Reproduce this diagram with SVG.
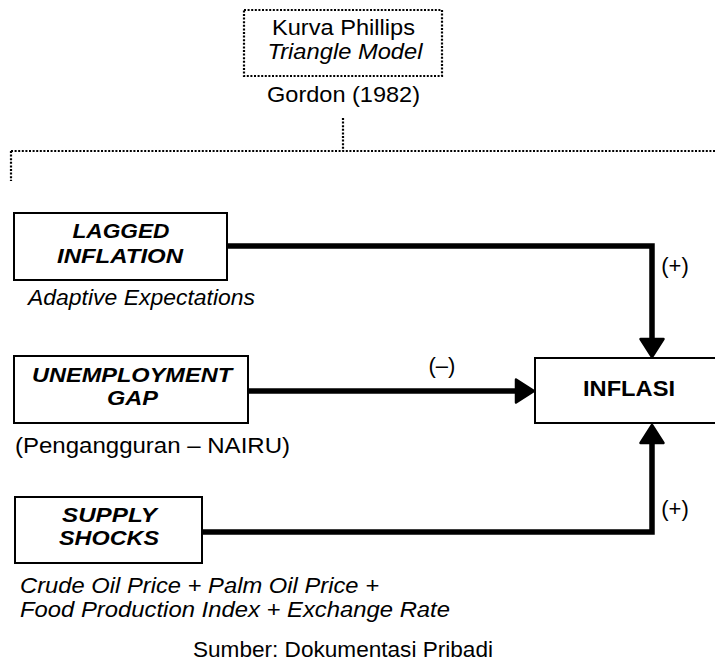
<svg xmlns="http://www.w3.org/2000/svg" width="715" height="666" viewBox="0 0 715 666">
<style>
text{font-family:"Liberation Sans",Arial,sans-serif;fill:#000}
.t{font-size:22px}
.it{font-style:italic}
.bi{font-size:20.5px;font-weight:bold;font-style:italic}
.b{font-size:22px;font-weight:bold}
.box{fill:#fff;stroke:#000;stroke-width:2}
.dot{fill:none;stroke:#000;stroke-width:2.2;stroke-dasharray:2 1.6}
.con{fill:none;stroke:#000;stroke-width:5.5;stroke-linejoin:miter}
</style>
<defs>
<marker id="ah" markerUnits="userSpaceOnUse" markerWidth="30" markerHeight="30" viewBox="-2 -15 24 30" refX="0" refY="0" orient="auto" overflow="visible">
<path d="M0,-11.5 L18,0 L0,11.5 Z" fill="#000" stroke="#000" stroke-width="2.5" stroke-linejoin="round"/>
</marker>
</defs>
<g id="title">
<rect class="dot" x="244" y="10" width="198" height="66"/>
<text class="t" x="343.5" y="35" text-anchor="middle" textLength="143" lengthAdjust="spacingAndGlyphs">Kurva Phillips</text>
<text class="t it" x="345" y="59" text-anchor="middle" textLength="155" lengthAdjust="spacingAndGlyphs">Triangle Model</text>
<text class="t" x="343.5" y="102" text-anchor="middle" textLength="153" lengthAdjust="spacingAndGlyphs">Gordon (1982)</text>
</g>
<g id="bracket">
<path class="dot" d="M343,118 V151 M11,151 H715 M11,151 V181"/>
</g>
<g id="lagged">
<rect class="box" x="14" y="213" width="213" height="67"/>
<text class="bi" x="121" y="238" text-anchor="middle" textLength="97" lengthAdjust="spacingAndGlyphs">LAGGED</text>
<text class="bi" x="120" y="263" text-anchor="middle" textLength="126" lengthAdjust="spacingAndGlyphs">INFLATION</text>
<text class="t it" x="28" y="305" textLength="227" lengthAdjust="spacingAndGlyphs">Adaptive Expectations</text>
</g>
<g id="unemployment">
<rect class="box" x="14" y="356" width="234" height="67"/>
<text class="bi" x="132" y="382" text-anchor="middle" textLength="200" lengthAdjust="spacingAndGlyphs">UNEMPLOYMENT</text>
<text class="bi" x="132.5" y="405" text-anchor="middle" textLength="51" lengthAdjust="spacingAndGlyphs">GAP</text>
<text class="t" x="15" y="453" textLength="275" lengthAdjust="spacingAndGlyphs">(Pengangguran – NAIRU)</text>
</g>
<g id="supply">
<rect class="box" x="15" y="497" width="187" height="66"/>
<text class="bi" x="109.5" y="522" text-anchor="middle" textLength="95" lengthAdjust="spacingAndGlyphs">SUPPLY</text>
<text class="bi" x="109" y="545" text-anchor="middle" textLength="100" lengthAdjust="spacingAndGlyphs">SHOCKS</text>
<text class="t it" x="20" y="593" textLength="359" lengthAdjust="spacingAndGlyphs">Crude Oil Price + Palm Oil Price +</text>
<text class="t it" x="20" y="617" textLength="430" lengthAdjust="spacingAndGlyphs">Food Production Index + Exchange Rate</text>
</g>
<g id="inflasi">
<rect class="box" x="535" y="358" width="200" height="65"/>
<text class="b" x="629" y="396" text-anchor="middle" textLength="92" lengthAdjust="spacingAndGlyphs">INFLASI</text>
</g>
<g id="connectors">
<path class="con" d="M227,246 H652 V339" marker-end="url(#ah)"/>
<path class="con" d="M248,391 H516" marker-end="url(#ah)"/>
<path class="con" d="M202,532 H652 V443" marker-end="url(#ah)"/>
<text class="t" x="675" y="273" text-anchor="middle">(+)</text>
<text class="t" x="442" y="373" text-anchor="middle">(–)</text>
<text class="t" x="675" y="516" text-anchor="middle">(+)</text>
</g>
<g id="source">
<text class="t" x="343" y="657" text-anchor="middle" textLength="300" lengthAdjust="spacingAndGlyphs">Sumber: Dokumentasi Pribadi</text>
</g>
</svg>
